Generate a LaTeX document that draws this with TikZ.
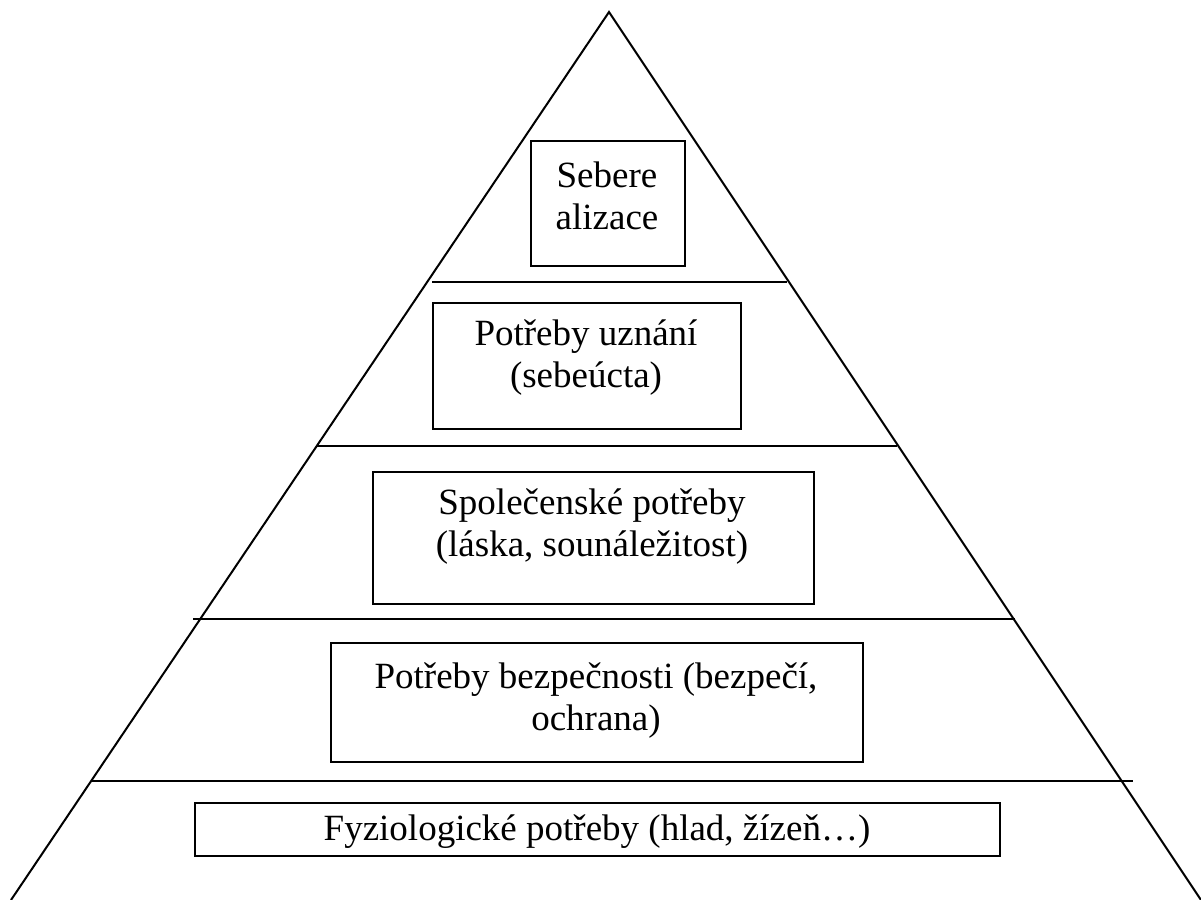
\documentclass[tikz,border=0pt]{standalone}
\usepackage{fontspec}
\setmainfont{Liberation Serif}
\begin{document}
\begin{tikzpicture}[x=1pt,y=-1pt,
  edge/.style={line width=2pt, line cap=butt},
  tier/.style={line width=2pt},
  levelbox/.style={draw, line width=1.8pt, inner sep=0pt, anchor=north west},
  caption/.style={font=\fontsize{37}{42}\selectfont, align=center, anchor=base, inner sep=0pt}
]
\useasboundingbox (0,0) rectangle (1201,899);

% pyramid outline
\coordinate (apex) at (609,12);
\coordinate (bl) at (11,900);
\coordinate (br) at (1201,900);
\draw[edge] (bl) -- (apex) -- (br);

% level separators
\coordinate (s1a) at (432,282);  \coordinate (s1b) at (787,282);
\coordinate (s2a) at (317,446);  \coordinate (s2b) at (897,446);
\coordinate (s3a) at (193,619);  \coordinate (s3b) at (1015,619);
\coordinate (s4a) at (92,781);   \coordinate (s4b) at (1133,781);
\draw[tier] (s1a) -- (s1b);
\draw[tier] (s2a) -- (s2b);
\draw[tier] (s3a) -- (s3b);
\draw[tier] (s4a) -- (s4b);

% boxes
\node[levelbox, minimum width=154pt, minimum height=125pt] (b1) at (530,140) {};
\node[levelbox, minimum width=308pt, minimum height=126pt] (b2) at (432,302) {};
\node[levelbox, minimum width=441pt, minimum height=132pt] (b3) at (372,471) {};
\node[levelbox, minimum width=532pt, minimum height=119pt] (b4) at (330,642) {};
\node[levelbox, minimum width=805pt, minimum height=53pt]  (b5) at (194,802) {};

% labels (anchored on the baseline of the last line)
\node[caption] (t1) at (607,229) {Sebere\\alizace};
\node[caption] (t2) at (586,387) {Potřeby uznání\\(sebeúcta)};
\node[caption] (t3) at (592,556) {Společenské potřeby\\(láska, sounáležitost)};
\node[caption] (t4) at (596,730) {Potřeby bezpečnosti (bezpečí,\\ochrana)};
\node[caption] (t5) at (597,840) {Fyziologické potřeby (hlad, žízeň…)};
\end{tikzpicture}
\end{document}
